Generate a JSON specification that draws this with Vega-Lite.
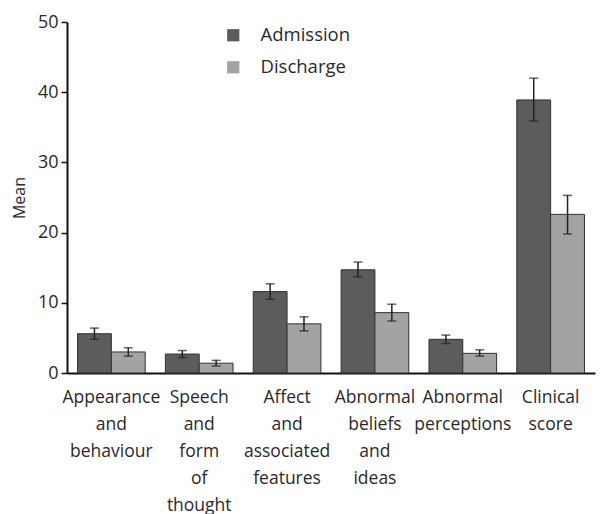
{
  "$schema": "https://vega.github.io/schema/vega-lite/v6.json",
  "autosize": "none",
  "width": 528,
  "height": 351,
  "padding": {"left": 67, "top": 22, "right": 7, "bottom": 141},
  "background": "white",
  "config": {
    "view": {"stroke": null},
    "font": "Open Sans",
    "axis": {"grid": false}
  },
  "data": {
    "values": [
      {"domain": "Appearance and behaviour", "time": "Admission", "mean": 5.6, "lo": 4.8, "hi": 6.4},
      {"domain": "Appearance and behaviour", "time": "Discharge", "mean": 3.0, "lo": 2.4, "hi": 3.6},
      {"domain": "Speech and form of thought", "time": "Admission", "mean": 2.7, "lo": 2.2, "hi": 3.2},
      {"domain": "Speech and form of thought", "time": "Discharge", "mean": 1.4, "lo": 1.0, "hi": 1.8},
      {"domain": "Affect and associated features", "time": "Admission", "mean": 11.6, "lo": 10.5, "hi": 12.7},
      {"domain": "Affect and associated features", "time": "Discharge", "mean": 7.0, "lo": 6.0, "hi": 8.0},
      {"domain": "Abnormal beliefs and ideas", "time": "Admission", "mean": 14.7, "lo": 13.7, "hi": 15.8},
      {"domain": "Abnormal beliefs and ideas", "time": "Discharge", "mean": 8.6, "lo": 7.4, "hi": 9.8},
      {"domain": "Abnormal perceptions", "time": "Admission", "mean": 4.8, "lo": 4.2, "hi": 5.4},
      {"domain": "Abnormal perceptions", "time": "Discharge", "mean": 2.8, "lo": 2.4, "hi": 3.3},
      {"domain": "Clinical score", "time": "Admission", "mean": 38.9, "lo": 35.9, "hi": 42.0},
      {"domain": "Clinical score", "time": "Discharge", "mean": 22.6, "lo": 19.8, "hi": 25.3}
    ]
  },
  "encoding": {
    "x": {
      "field": "domain", "type": "nominal", "sort": null,
      "scale": {"paddingInner": 0.23, "paddingOuter": 0.12},
      "axis": {
        "title": null, "labelAngle": 0, "ticks": false,
        "domainColor": "#111", "domainWidth": 2,
        "labelFontSize": 17.5, "labelColor": "#2a2a2a", "labelPadding": 15,
        "labelLineHeight": 27, "labelBaseline": "top", "labelOverlap": false, "labelLimit": 0,
        "labelExpr": "split(datum.label, ' ')"
      }
    },
    "xOffset": {"field": "time", "type": "nominal"}
  },
  "layer": [
    {
      "mark": {"type": "bar", "stroke": "#333", "strokeWidth": 1},
      "encoding": {
        "y": {
          "field": "mean", "type": "quantitative",
          "scale": {"domain": [0, 50], "nice": false},
          "axis": {
            "title": "Mean", "values": [0, 10, 20, 30, 40, 50],
            "domainColor": "#111", "domainWidth": 2, "tickColor": "#111", "tickWidth": 1.5, "tickSize": 6,
            "labelFontSize": 18, "labelColor": "#2a2a2a", "labelPadding": 3,
            "titleFontSize": 16, "titleFontWeight": "normal", "titleColor": "#2a2a2a", "titlePadding": 10
          }
        },
        "color": {
          "field": "time", "type": "nominal",
          "scale": {"domain": ["Admission", "Discharge"], "range": ["#5c5c5c", "#a3a3a3"]},
          "legend": {
            "title": null, "orient": "none", "legendX": 157, "legendY": 4,
            "symbolType": "square", "symbolSize": 150, "symbolStrokeWidth": 0,
            "labelFontSize": 18.5, "labelColor": "#2a2a2a", "labelOffset": 18, "rowPadding": 13
          }
        }
      }
    },
    {
      "mark": {"type": "rule", "color": "#222", "strokeWidth": 1.5},
      "encoding": {
        "y": {"field": "lo", "type": "quantitative"},
        "y2": {"field": "hi"}
      }
    },
    {
      "mark": {"type": "tick", "color": "#222", "size": 9, "thickness": 1.5},
      "encoding": {"y": {"field": "lo", "type": "quantitative"}}
    },
    {
      "mark": {"type": "tick", "color": "#222", "size": 9, "thickness": 1.5},
      "encoding": {"y": {"field": "hi", "type": "quantitative"}}
    }
  ]
}
